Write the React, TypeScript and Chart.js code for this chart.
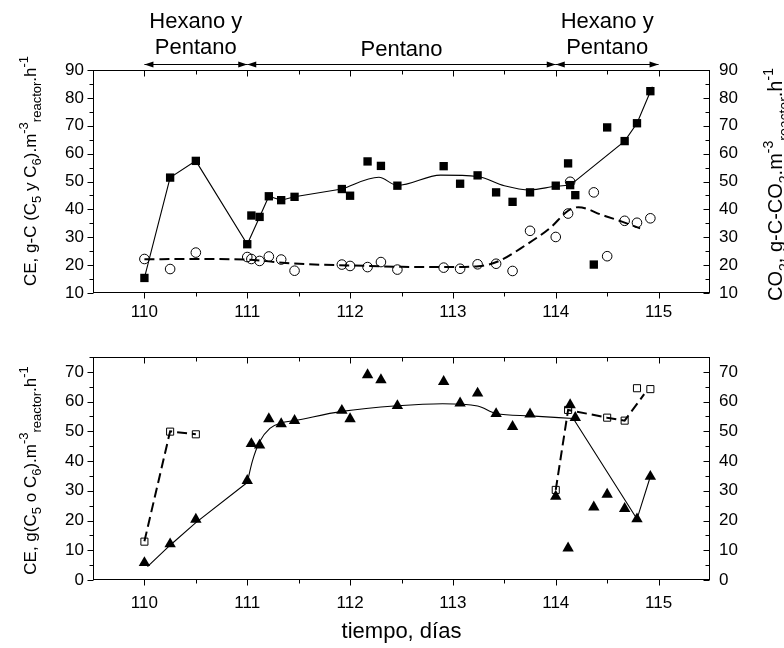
import React, { useEffect, useRef } from 'react';
import { Chart, registerables } from 'chart.js';

Chart.register(...registerables);

const FONT = '"Liberation Sans", Arial, Helvetica, sans-serif';
const INK = '#000000';

// Shared time axis (days of operation)
const dayTicks = [110, 111, 112, 113, 114, 115];
const dayMin = 109.5;
const dayMax = 115.5;

// Feed periods marked above the upper panel
const periodBounds = [110, 111, 114, 115];
const periodLabels = [['Hexano y', 'Pentano'], ['Pentano'], ['Hexano y', 'Pentano']];

// Upper panel: elimination capacity (filled squares)
const ceDays = [110, 110.25, 110.5, 111, 111.04, 111.12, 111.21, 111.33, 111.46, 111.92, 112, 112.17, 112.3, 112.46, 112.91, 113.07, 113.24, 113.42, 113.58, 113.75, 114, 114.12, 114.14, 114.19, 114.37, 114.5, 114.67, 114.79, 114.92];
const ceValues = [15.4, 51.4, 57.4, 27.5, 37.8, 37.3, 44.7, 43.3, 44.5, 47.3, 44.9, 57.2, 55.6, 48.5, 55.5, 49.2, 52.2, 46.1, 42.7, 46.1, 48.5, 56.5, 48.7, 45.1, 20.2, 69.4, 64.5, 70.9, 82.4];

// Upper panel: CO2 production (open circles)
const co2Days = [110, 110.25, 110.5, 111, 111.04, 111.12, 111.21, 111.33, 111.46, 111.92, 112, 112.17, 112.3, 112.46, 112.91, 113.07, 113.24, 113.42, 113.58, 113.75, 114, 114.12, 114.14, 114.37, 114.5, 114.67, 114.79, 114.92];
const co2Values = [22.2, 18.6, 24.5, 22.9, 22.2, 21.5, 23.1, 22.0, 18.0, 20.2, 19.7, 19.3, 21.1, 18.4, 19.1, 18.7, 20.3, 20.5, 17.9, 32.3, 30.1, 38.5, 49.9, 46.1, 23.2, 35.9, 35.2, 36.8];

// Upper panel trend lines
const ceTrendA_days = [110, 110.25, 110.5, 111, 111.12, 111.21, 111.33, 111.46, 111.92];
const ceTrendA_vals = [15.4, 51.4, 57.4, 27.5, 37.3, 44.7, 43.3, 44.5, 47.3];
const ceTrendB_days = [111.92, 112.28, 112.46, 112.88, 113.24, 113.5, 113.75, 114, 114.14];
const ceTrendB_vals = [47.3, 51.5, 48.6, 52.3, 51.8, 48.5, 47.0, 48.3, 48.7];
const ceTrendC_days = [114.14, 114.67, 114.79, 114.94];
const ceTrendC_vals = [48.7, 64.5, 70.9, 84.0];
const co2Trend_days = [110, 110.5, 111, 111.3, 111.6, 112, 112.5, 113, 113.25, 113.45, 113.7, 113.95, 114.12, 114.22, 114.45, 114.65, 114.82];
const co2Trend_vals = [22.1, 22.2, 22.0, 21.0, 20.3, 19.9, 19.4, 19.3, 19.6, 21.5, 27.0, 33.5, 39.5, 40.8, 38.0, 35.5, 33.2];

// Lower panel: individual elimination capacities
const triDays = [110, 110.25, 110.5, 111, 111.04, 111.12, 111.21, 111.33, 111.46, 111.92, 112, 112.17, 112.3, 112.46, 112.91, 113.07, 113.24, 113.42, 113.58, 113.75, 114, 114.12, 114.14, 114.19, 114.37, 114.5, 114.67, 114.79, 114.92];
const triValues = [5.8, 12.1, 20.4, 33.4, 45.8, 45.3, 54.2, 52.5, 53.6, 57.0, 54.2, 69.0, 67.3, 58.6, 66.7, 59.5, 62.8, 55.9, 51.6, 55.8, 28.1, 10.7, 58.9, 54.6, 24.5, 28.8, 24.0, 20.5, 34.8];
const sqDays = [110, 110.25, 110.5, 114, 114.12, 114.5, 114.67, 114.79, 114.92];
const sqValues = [12.9, 49.9, 49.0, 30.3, 57.2, 54.6, 53.6, 64.5, 64.2];

// Lower panel trend lines
const triTrendA_days = [110.03, 110.25, 110.5, 111];
const triTrendA_vals = [4.5, 11.7, 19.3, 32.8];
const triTrendB_days = [111, 111.05, 111.12, 111.22, 111.33, 111.46, 111.92, 112.46, 112.9, 113.24, 113.42, 113.75, 114.17];
const triTrendB_vals = [32.8, 40.0, 46.5, 51.0, 52.8, 53.6, 56.7, 58.6, 59.3, 58.5, 56.0, 55.2, 54.3];
const triTrendC_days = [114.17, 114.79, 114.92];
const triTrendC_vals = [54.3, 20.5, 34.8];
const sqTrendA_days = [110, 110.25, 110.5];
const sqTrendA_vals = [13.0, 50.0, 49.0];
const sqTrendB_days = [114, 114.12, 114.5, 114.67, 114.86];
const sqTrendB_vals = [30.3, 57.2, 54.6, 53.6, 62.5];

const upperTicks = [10, 20, 30, 40, 50, 60, 70, 80, 90];
const lowerTicks = [0, 10, 20, 30, 40, 50, 60, 70];

type Seg = { text: string; kind?: 'sub' | 'sup' };
type RichStyle = { main: number; small: number; subShift: number; supShift: number };

const upperLeftTitle: Seg[] = [
  { text: 'CE, g-C (C' }, { text: '5', kind: 'sub' }, { text: ' y C' }, { text: '6', kind: 'sub' },
  { text: ').m' }, { text: '-3', kind: 'sup' }, { text: 'reactor', kind: 'sub' }, { text: '.h' }, { text: '-1', kind: 'sup' },
];
const upperRightTitle: Seg[] = [
  { text: 'CO' }, { text: '2', kind: 'sub' }, { text: ', g-C-CO' }, { text: '2', kind: 'sub' },
  { text: '.m' }, { text: '-3', kind: 'sup' }, { text: 'reactor', kind: 'sub' }, { text: '.h' }, { text: '-1', kind: 'sup' },
];
const lowerLeftTitle: Seg[] = [
  { text: 'CE, g(C' }, { text: '5', kind: 'sub' }, { text: ' o C' }, { text: '6', kind: 'sub' },
  { text: ').m' }, { text: '-3', kind: 'sup' }, { text: 'reactor', kind: 'sub' }, { text: '.h' }, { text: '-1', kind: 'sup' },
];
const xTitle = 'tiempo, días';

const pts = (xs: number[], ys: number[]) => xs.map((x, i) => ({ x, y: ys[i] }));

const TICK_FONT = { family: FONT, size: 17 };
const LEFT_STYLE: RichStyle = { main: 17, small: 13, subShift: 5, supShift: -8 };
const RIGHT_STYLE: RichStyle = { main: 20, small: 14, subShift: 7, supShift: -9 };

function richWidth(ctx: CanvasRenderingContext2D, segs: Seg[], st: RichStyle) {
  let total = 0;
  for (const s of segs) {
    ctx.font = `${s.kind ? st.small : st.main}px ${FONT}`;
    total += ctx.measureText(s.text).width;
  }
  return total;
}

// Rotated axis title with sub/superscripts, reading bottom to top from startY
function drawVerticalRich(ctx: CanvasRenderingContext2D, segs: Seg[], st: RichStyle, baselineX: number, startY: number) {
  ctx.save();
  ctx.fillStyle = INK;
  ctx.textBaseline = 'alphabetic';
  ctx.textAlign = 'left';
  ctx.translate(baselineX, startY);
  ctx.rotate(-Math.PI / 2);
  let pos = 0;
  for (const s of segs) {
    ctx.font = `${s.kind ? st.small : st.main}px ${FONT}`;
    const dy = s.kind === 'sub' ? st.subShift : s.kind === 'sup' ? st.supShift : 0;
    ctx.fillText(s.text, pos, dy);
    pos += ctx.measureText(s.text).width;
  }
  ctx.restore();
}

function drawCenteredTitle(ctx: CanvasRenderingContext2D, segs: Seg[], st: RichStyle, baselineX: number, centerY: number) {
  const w = richWidth(ctx, segs, st);
  drawVerticalRich(ctx, segs, st, baselineX, centerY + w / 2);
}

// Box, mirrored ticks and minor ticks of a panel
function drawFrame(chart: Chart, yMin: number, yMax: number) {
  const { ctx, chartArea: a } = chart;
  const xs = chart.scales.x;
  const ys = chart.scales.y;
  ctx.save();
  ctx.strokeStyle = INK;
  ctx.lineWidth = 1;
  const L = Math.round(a.left) + 0.5;
  const R = Math.round(a.right) - 0.5;
  const T = Math.round(a.top) + 0.5;
  const B = Math.round(a.bottom) - 0.5;
  ctx.strokeRect(L, T, R - L, B - T);
  ctx.beginPath();
  const nHalf = Math.round((dayMax - dayMin) * 2);
  for (let k = 1; k < nHalf; k++) {
    const v = dayMin + k * 0.5;
    const px = Math.round(xs.getPixelForValue(v)) + 0.5;
    const len = Number.isInteger(v) ? 6 : 4;
    ctx.moveTo(px, B);
    ctx.lineTo(px, B + len);
    ctx.moveTo(px, T);
    ctx.lineTo(px, T + len);
  }
  for (let v = yMin; v <= yMax + 1e-9; v += 5) {
    const py = Math.round(ys.getPixelForValue(v)) + 0.5;
    const len = v % 10 === 0 ? 6 : 4;
    ctx.moveTo(L, py);
    ctx.lineTo(L - len, py);
    ctx.moveTo(R, py);
    ctx.lineTo(R - len, py);
  }
  ctx.stroke();
  ctx.restore();
}

function arrowHead(ctx: CanvasRenderingContext2D, x: number, y: number, dir: number) {
  ctx.beginPath();
  ctx.moveTo(x, y);
  ctx.lineTo(x - dir * 9, y - 3);
  ctx.lineTo(x - dir * 9, y + 3);
  ctx.closePath();
  ctx.fill();
}

function drawPeriods(chart: Chart) {
  const { ctx } = chart;
  const xs = chart.scales.x;
  const yArrow = 64.5;
  ctx.save();
  ctx.strokeStyle = INK;
  ctx.fillStyle = INK;
  ctx.lineWidth = 1;
  ctx.font = `22px ${FONT}`;
  ctx.textAlign = 'center';
  ctx.textBaseline = 'alphabetic';
  for (let i = 0; i < periodBounds.length - 1; i++) {
    const x1 = xs.getPixelForValue(periodBounds[i]);
    const x2 = xs.getPixelForValue(periodBounds[i + 1]);
    ctx.beginPath();
    ctx.moveTo(x1, yArrow);
    ctx.lineTo(x2, yArrow);
    ctx.stroke();
    arrowHead(ctx, x1, yArrow, -1);
    arrowHead(ctx, x2, yArrow, 1);
    const lines = periodLabels[i];
    const cx = (x1 + x2) / 2;
    const baselines = lines.length === 2 ? [28, 54] : [56];
    lines.forEach((t, j) => ctx.fillText(t, cx, baselines[j]));
  }
  ctx.restore();
}

const baseScaleX = (axisHeight: number, pad: number) => ({
  type: 'linear' as const,
  min: dayMin,
  max: dayMax,
  grid: { display: false, drawTicks: false },
  border: { display: false },
  ticks: { font: TICK_FONT, color: INK, padding: pad, maxRotation: 0, autoSkip: false },
  afterBuildTicks: (s: any) => { s.ticks = dayTicks.map((value) => ({ value })); },
  afterFit: (s: any) => { s.height = axisHeight; },
});

const baseScaleY = (pos: 'left' | 'right', min: number, max: number, ticks: number[]) => ({
  type: 'linear' as const,
  position: pos,
  min,
  max,
  grid: { display: false, drawTicks: false },
  border: { display: false },
  ticks: { font: TICK_FONT, color: INK, padding: 9 },
  afterBuildTicks: (s: any) => { s.ticks = ticks.map((value) => ({ value })); },
  afterFit: (s: any) => { s.width = pos === 'left' ? 93 : 74; },
});

const lineSet = (data: { x: number; y: number }[], opts: any = {}) => ({
  data,
  showLine: true,
  pointRadius: 0,
  borderColor: INK,
  borderWidth: 1.1,
  fill: false,
  order: 2,
  ...opts,
});

const markerSet = (data: { x: number; y: number }[], style: string, radius: number, filled: boolean) => ({
  data,
  showLine: false,
  pointStyle: style,
  pointRadius: radius,
  pointBackgroundColor: filled ? INK : 'rgba(0,0,0,0)',
  pointBorderColor: INK,
  pointBorderWidth: filled ? 0 : 1,
  order: 0,
});

const common = {
  responsive: false,
  devicePixelRatio: 1,
  animation: false as const,
  events: [] as any[],
  plugins: { legend: { display: false }, tooltip: { enabled: false } },
};

export default function App() {
  const upperRef = useRef<HTMLCanvasElement>(null);
  const lowerRef = useRef<HTMLCanvasElement>(null);

  useEffect(() => {
    const upper = new Chart(upperRef.current!, {
      type: 'scatter',
      data: {
        datasets: [
          markerSet(pts(ceDays, ceValues), 'rect', 5.9, true),
          markerSet(pts(co2Days, co2Values), 'circle', 4.8, false),
          lineSet(pts(ceTrendA_days, ceTrendA_vals)),
          lineSet(pts(ceTrendB_days, ceTrendB_vals), { cubicInterpolationMode: 'monotone' }),
          lineSet(pts(ceTrendC_days, ceTrendC_vals)),
          lineSet(pts(co2Trend_days, co2Trend_vals), { cubicInterpolationMode: 'monotone', borderDash: [10, 5], borderWidth: 2 }),
        ] as any,
      },
      options: {
        ...common,
        layout: { padding: { top: 70, left: 0, right: 0, bottom: 0 } },
        scales: {
          x: baseScaleX(37, 9),
          y: baseScaleY('left', 10, 90, upperTicks),
          yR: baseScaleY('right', 10, 90, upperTicks),
        } as any,
      },
      plugins: [{
        id: 'upperDecor',
        afterDraw(chart: Chart) {
          drawFrame(chart, 10, 90);
          drawPeriods(chart);
          drawCenteredTitle(chart.ctx, upperLeftTitle, LEFT_STYLE, 36, 171);
          drawVerticalRich(chart.ctx, upperRightTitle, RIGHT_STYLE, 782, 301);
        },
      }],
    });

    const lower = new Chart(lowerRef.current!, {
      type: 'scatter',
      data: {
        datasets: [
          markerSet(pts(triDays, triValues), 'triangle', 6.6, true),
          markerSet(pts(sqDays, sqValues), 'rect', 5, false),
          lineSet(pts(triTrendA_days, triTrendA_vals)),
          lineSet(pts(triTrendB_days, triTrendB_vals), { cubicInterpolationMode: 'monotone' }),
          lineSet(pts(triTrendC_days, triTrendC_vals)),
          lineSet(pts(sqTrendA_days, sqTrendA_vals), { borderDash: [10, 5], borderWidth: 2 }),
          lineSet(pts(sqTrendB_days, sqTrendB_vals), { borderDash: [10, 5], borderWidth: 2 }),
        ] as any,
      },
      options: {
        ...common,
        layout: { padding: { top: 27, left: 0, right: 0, bottom: 0 } },
        scales: {
          x: baseScaleX(68, 13),
          y: baseScaleY('left', 0, 75, lowerTicks),
          yR: baseScaleY('right', 0, 75, lowerTicks),
        } as any,
      },
      plugins: [{
        id: 'lowerDecor',
        afterDraw(chart: Chart) {
          drawFrame(chart, 0, 75);
          const a = chart.chartArea;
          drawCenteredTitle(chart.ctx, lowerLeftTitle, LEFT_STYLE, 36, (a.top + a.bottom) / 2 + 2);
          const ctx = chart.ctx;
          ctx.save();
          ctx.fillStyle = INK;
          ctx.font = `22px ${FONT}`;
          ctx.textAlign = 'center';
          ctx.textBaseline = 'alphabetic';
          ctx.fillText(xTitle, (a.left + a.right) / 2, 308);
          ctx.restore();
        },
      }],
    });

    return () => {
      upper.destroy();
      lower.destroy();
    };
  }, []);

  return (
    <div style={{ position: 'absolute', left: 0, top: 0, width: 784, height: 648, background: '#ffffff' }}>
      <canvas ref={upperRef} width={784} height={330} style={{ position: 'absolute', left: 0, top: 0 }} />
      <canvas ref={lowerRef} width={784} height={318} style={{ position: 'absolute', left: 0, top: 330 }} />
    </div>
  );
}
